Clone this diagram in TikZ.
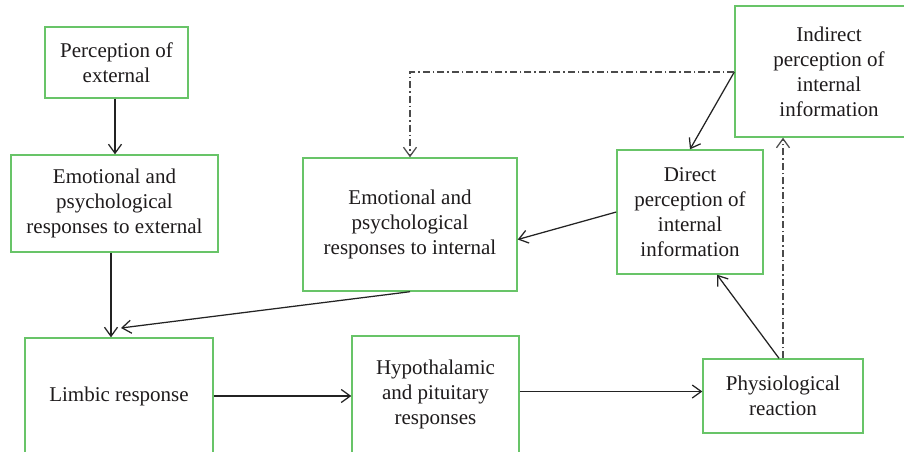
\documentclass[tikz,border=0pt]{standalone}
\usepackage{fontspec}
\setmainfont{Liberation Serif}
\usetikzlibrary{arrows.meta,calc}
\definecolor{boxgreen}{RGB}{104,196,104}
\definecolor{txtgray}{RGB}{30,27,28}
\definecolor{linegray}{RGB}{35,35,35}
\definecolor{dashgray}{RGB}{75,75,75}
\tikzset{
  box/.style={draw=boxgreen, line width=1.4pt, fill=white, align=center, inner sep=0pt,
    text=txtgray, font=\fontsize{21}{25}\selectfont, anchor=center},
  conn/.style={draw=linegray, line width=1.25pt, -{Straight Barb[length=9pt,width=13pt,line width=1.25pt]}},
  dashdot/.style={conn, draw=dashgray, dash pattern=on 7pt off 3pt on 1.5pt off 3pt}
}
\begin{document}
\begin{tikzpicture}[x=1pt,y=-1pt]
\useasboundingbox (0,0) rectangle (904,451);
\clip (0,0) rectangle (904,451);
\fill[white] (0,0) rectangle (904,451);
\node[box, minimum width=143pt, minimum height=71pt] (pe) at (116.5,62.5) {Perception of\\external};
\node[box, minimum width=207pt, minimum height=97pt] (ee) at (114.5,203.5) {Emotional and\\psychological\\responses to external};
\node[box, minimum width=214pt, minimum height=133pt] (ei) at (410,224.5) {Emotional and\\psychological\\responses to internal};
\node[box, minimum width=146pt, minimum height=124pt] (dp) at (690,212) {Direct\\perception of\\internal\\information};
\node[box, minimum width=188pt, minimum height=131pt] (ip) at (829,71.5) {Indirect\\perception of\\internal\\information};
\node[box, minimum width=188pt, minimum height=116pt] (lr) at (119,396) {Limbic response};
\node[box, minimum width=167pt, minimum height=117pt] (hp) at (435.5,394.5) {Hypothalamic\\and pituitary\\responses};
\node[box, minimum width=160pt, minimum height=74pt] (ph) at (783,396) {Physiological\\reaction};
\coordinate (lrin) at (121,328);
\coordinate (peout) at ([xshift=-1.5pt]pe.south);
\coordinate (eeout) at ([xshift=-3.5pt]ee.south);
\coordinate (hpout) at ([yshift=3pt]hp.east);

\draw[conn] (peout) -- (peout |- ee.north);
\draw[conn] (eeout) -- (eeout |- lr.north);
\draw[conn] (ei.south) -- (lrin);
\draw[conn] (lr.east) -- (lr.east -| hp.west);
\draw[conn] (hpout) -- (hpout -| ph.west);
\draw[conn] ([xshift=-4pt]ph.north) -- ([xshift=27pt]dp.south);
\draw[dashdot] (ph.north) -- (ph.north |- ip.south);
\draw[conn] (dp.west) -- ([yshift=-15pt]ei.east);
\draw[conn] ([yshift=-0.5pt]ip.west) -- (dp.north);
\draw[dashdot] ([yshift=-0.5pt]ip.west) -| (ei.north);
\end{tikzpicture}
\end{document}
